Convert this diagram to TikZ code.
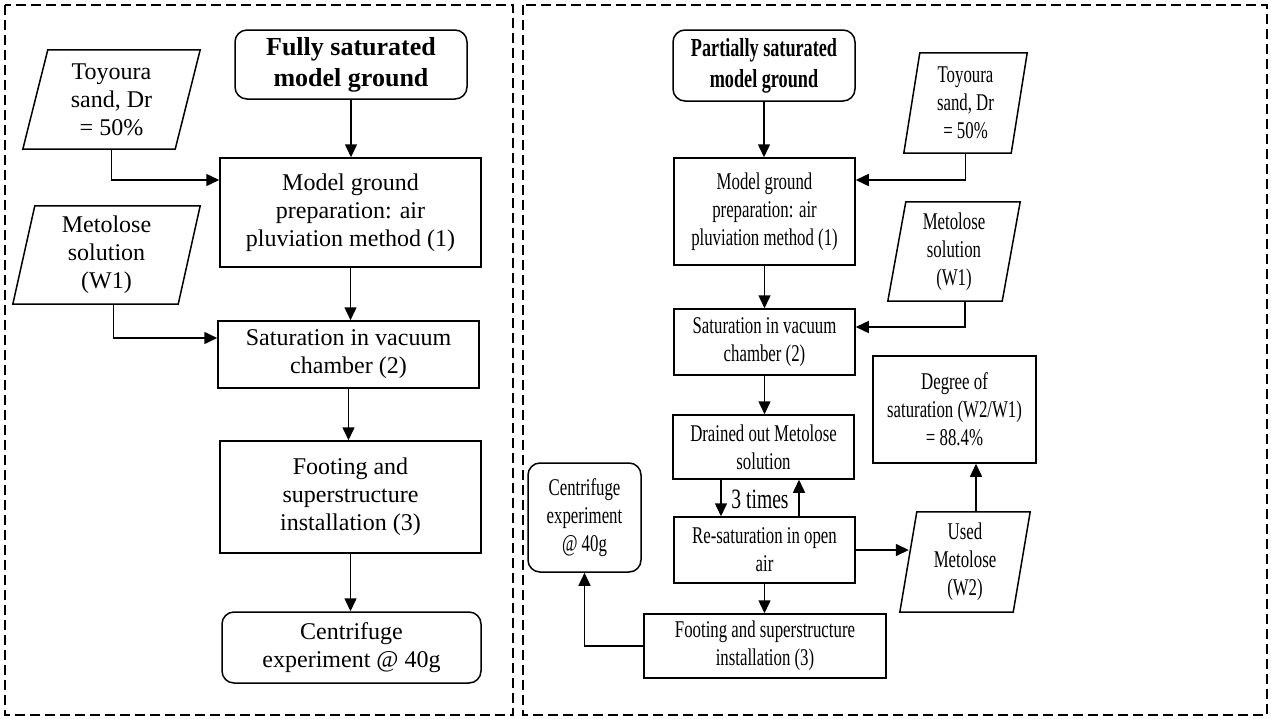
\documentclass[tikz,border=0pt]{standalone}
\usepackage{fontspec}
\setmainfont{Liberation Serif}
\newfontfamily\serffont{Liberation Serif}
\newfontfamily\condfont[FakeStretch=0.7]{Liberation Serif}
\usetikzlibrary{arrows.meta}
\newcommand\lfont{\serffont\fontsize{24}{28}\selectfont}
\newcommand\rfont{\condfont\fontsize{24}{28}\selectfont}
\newcommand\mypara[7]{%
  \node[ptext,#7,minimum width=#3pt,minimum height=#4pt] (#1) at (#2) {#6};
  \draw[pline] ([xshift=#5pt]#1.north west) -- (#1.north east) -- ([xshift=-#5pt]#1.south east) -- (#1.south west) -- cycle;}
\begin{document}
\begin{tikzpicture}[x=1pt,y=-1pt,
  box/.style={draw, line width=1.5pt, align=center, inner sep=1pt},
  rbox/.style={box, rounded corners=12pt},
  ptext/.style={align=center, inner sep=1pt},
  pline/.style={line width=1.5pt, line join=miter},
  lf/.style={font=\lfont},
  rf/.style={font=\rfont},
  arr/.style={line width=1.5pt, -{Triangle[length=13pt,width=12pt]}},
  panel/.style={line width=1.6pt, dash pattern=on 10pt off 5pt}]
\useasboundingbox (0,0) rectangle (1271,718);
\draw[panel] (5,5) rectangle (513,715);
\draw[panel] (523,5) rectangle (1267,715);

% ---------- left panel ----------
\node[rbox, font=\serffont\bfseries\fontsize{26}{31}\selectfont, minimum width=232pt, minimum height=69pt] (t1) at (351,64.5) {Fully saturated\\model ground};
\node[box, lf, minimum width=261pt, minimum height=109pt] (lmod) at (350.5,212.5) {Model ground\\preparation: air\\pluviation method (1)};
\node[box, lf, minimum width=261pt, minimum height=67pt] (lsat) at (348.5,354.5) {Saturation in vacuum\\chamber (2)};
\node[box, lf, minimum width=261pt, minimum height=112pt] (lfoot) at (350.5,497) {Footing and\\superstructure\\installation (3)};
\node[rbox, lf, minimum width=259pt, minimum height=71pt] (lcent) at (351.5,647.5) {Centrifuge\\experiment @ 40g};
\mypara{ltoy}{111.5,99.5}{177}{99}{25}{Toyoura\\sand, Dr\\= 50\%}{lf}
\mypara{lmet}{106.5,255}{187}{98}{22}{Metolose\\solution\\(W1)}{lf}

\draw[arr] (t1.south) -- (t1.south |- lmod.north);
\draw[arr] (lmod.south) -- (lmod.south |- lsat.north);
\draw[arr] (lsat.south) -- (lsat.south |- lfoot.north);
\draw[arr] (lfoot.south) -- (lfoot.south |- lcent.north);
\draw[arr] (ltoy.south) |- ([yshift=32.5pt]lmod.west);
\draw[arr] ([xshift=7pt]lmet.south) |- ([yshift=16.5pt]lsat.west);

% ---------- right panel ----------
\node[rbox, font=\condfont\bfseries\fontsize{26}{31}\selectfont, minimum width=182pt, minimum height=71pt] (t2) at (764,65.5) {Partially saturated\\model ground};
\node[box, rf, minimum width=181pt, minimum height=107pt] (rmod) at (764.5,211.5) {Model ground\\preparation: air\\pluviation method (1)};
\node[box, rf, minimum width=181pt, minimum height=66pt] (rsat) at (764.5,342) {Saturation in vacuum\\chamber (2)};
\node[box, rf, minimum width=181pt, minimum height=64pt] (rdrain) at (763.5,447) {Drained out Metolose\\solution};
\node[box, rf, minimum width=181pt, minimum height=66pt] (rresat) at (764.5,550) {Re-saturation in open\\air};
\node[box, rf, minimum width=242pt, minimum height=64pt] (rfoot) at (765,646) {Footing and superstructure\\installation (3)};
\node[rbox, rf, minimum width=113pt, minimum height=109pt] (rcent) at (584.5,517.5) {Centrifuge\\experiment\\@ 40g};
\node[box, rf, minimum width=163pt, minimum height=107pt] (rdeg) at (954.5,409.5) {Degree of\\saturation (W2/W1)\\= 88.4\%};
\node[ptext, font=\condfont\fontsize{28}{32}\selectfont] (times) at (760,499) {3 times};
\mypara{rtoy}{965.5,103}{123}{100}{16}{Toyoura\\sand, Dr\\= 50\%}{rf}
\mypara{rmet}{954,251.5}{132}{99}{18}{Metolose\\solution\\(W1)}{rf}
\mypara{rused}{965,562}{130}{100}{17}{Used\\Metolose\\(W2)}{rf}

\draw[arr] (t2.south) -- (t2.south |- rmod.north);
\draw[arr] (rmod.south) -- (rmod.south |- rsat.north);
\draw[arr] (rsat.south) -- (rsat.south |- rdrain.north);
\draw[arr] ([xshift=-42.5pt]rdrain.south) -- ([xshift=-42.5pt]rdrain.south |- rresat.north);
\draw[arr] ([xshift=34.5pt]rresat.north) -- ([xshift=34.5pt]rresat.north |- rdrain.south);
\draw[arr] (rresat.south) -- (rresat.south |- rfoot.north);
\draw[arr] (rtoy.south) |- ([yshift=31.5pt]rmod.east);
\draw[arr] ([xshift=11pt]rmet.south) |- ([yshift=15pt]rsat.east);
\draw[arr] (rresat.east) -- ([xshift=9pt]rresat.east -| rused.west);
\draw[arr] ([xshift=11pt]rused.north) -- ([xshift=11pt]rused.north |- rdeg.south);
\draw[arr] (rfoot.west) -| (rcent.south);
\end{tikzpicture}
\end{document}
